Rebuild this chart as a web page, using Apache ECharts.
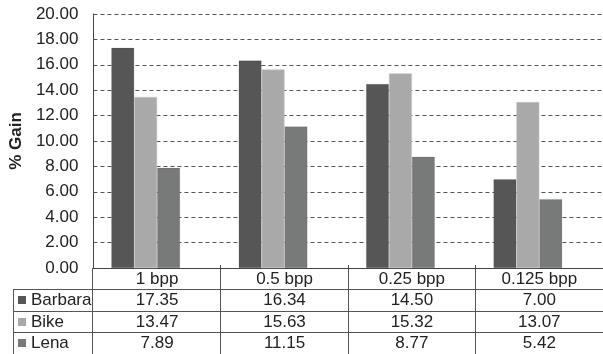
<!DOCTYPE html>
<html><head><meta charset="utf-8">
<script src="https://cdn.jsdelivr.net/npm/echarts@6/dist/echarts.min.js"></script>
<style>html,body{margin:0;padding:0;background:#fff}#c{width:603px;height:354px}</style>
</head><body><div id="c"></div>
<script>
const categories = ['1 bpp', '0.5 bpp', '0.25 bpp', '0.125 bpp'];
const seriesNames = ['Barbara', 'Bike', 'Lena'];
const barbara = [17.35, 16.34, 14.50, 7.00];
const bike = [13.47, 15.63, 15.32, 13.07];
const lena = [7.89, 11.15, 8.77, 5.42];
const yMin = 0, yMax = 20, yStep = 2;
const colors = ['#565656', '#a9a9a9', '#777a78'];
const seriesData = [barbara, bike, lena];

const FONT = "'Liberation Sans', Arial, sans-serif";
const FS = 17;
const chart = echarts.init(document.getElementById('c'), null, {renderer: 'canvas'});
const gridLeft = 92, gridTop = 14, gridRight = 0, gridBottom = 86;

const series = seriesNames.map((n, i) => ({
  name: n, type: 'bar', data: seriesData[i],
  itemStyle: {color: colors[i], borderColor: i === 1 ? '#c4c4c4' : 'rgba(0,0,0,0.15)', borderWidth: 0.6},
  barGap: '0%', barCategoryGap: '28%', animation: false
}));
// empty slot: in the original the bar group sits left of the category centre
series.push({name: 'spacer', type: 'bar', data: categories.map(() => '-'), barGap: '0%', barCategoryGap: '28%', animation: false, silent: true});

chart.setOption({
  animation: false,
  backgroundColor: '#fff',
  textStyle: {fontFamily: FONT},
  grid: {left: gridLeft, top: gridTop, right: gridRight, bottom: gridBottom, containLabel: false},
  xAxis: {
    type: 'category', data: categories,
    axisLine: {show: true, lineStyle: {color: '#444', width: 1}},
    axisTick: {show: false},
    axisLabel: {margin: 3, fontSize: FS, color: '#222', fontFamily: FONT},
    splitLine: {show: false}
  },
  yAxis: {
    type: 'value', min: yMin, max: yMax, interval: yStep,
    name: '% Gain', nameLocation: 'middle', nameGap: 62, nameRotate: 90,
    nameTextStyle: {fontSize: FS, fontWeight: 'bold', color: '#222', fontFamily: FONT},
    axisLine: {show: true, lineStyle: {color: '#444', width: 1}},
    axisTick: {show: false},
    axisLabel: {margin: 15, fontSize: FS, color: '#222', fontFamily: FONT, formatter: v => v.toFixed(2)},
    splitLine: {show: true, lineStyle: {color: '#555', type: [4, 3], width: 1}}
  },
  series: series
});

// data table beneath the axis
const W = 603;
const axisY = chart.convertToPixel({yAxisIndex: 0}, 0);
const plotRight = W - gridRight;
const band = (plotRight - gridLeft) / categories.length;
const rowLines = [axisY + 21, axisY + 43, axisY + 64];
const rowCenters = [axisY + 32, axisY + 54, axisY + 75];
const legendLeft = 13;
const lineStyle = {stroke: '#555', lineWidth: 1};
const g = [];
const cx = v => Math.round(v) + 0.5;
rowLines.forEach(y => g.push({type: 'line', shape: {x1: legendLeft, y1: cx(y), x2: W, y2: cx(y)}, style: lineStyle, silent: true}));
g.push({type: 'line', shape: {x1: cx(legendLeft), y1: rowLines[0], x2: cx(legendLeft), y2: 354}, style: lineStyle});
for (let i = 0; i < categories.length; i++) {
  const xb = gridLeft + band * i;
  g.push({type: 'line', shape: {x1: cx(xb), y1: axisY - (i === 0 ? 0 : 3), x2: cx(xb), y2: 354}, style: lineStyle});
}
seriesNames.forEach((n, s) => {
  const yc = rowCenters[s];
  g.push({type: 'rect', shape: {x: 18, y: yc - 4, width: 8, height: 8}, style: {fill: colors[s]}});
  g.push({type: 'text', x: 31, y: yc, style: {text: n, fill: '#222', font: FS + 'px ' + FONT, verticalAlign: 'middle', align: 'left'}});
  seriesData[s].forEach((v, i) => {
    const x = chart.convertToPixel({xAxisIndex: 0}, i);
    g.push({type: 'text', x: x, y: yc, style: {text: v.toFixed(2), fill: '#222', font: FS + 'px ' + FONT, verticalAlign: 'middle', align: 'center'}});
  });
});
chart.setOption({graphic: {elements: g}});
</script></body></html>
